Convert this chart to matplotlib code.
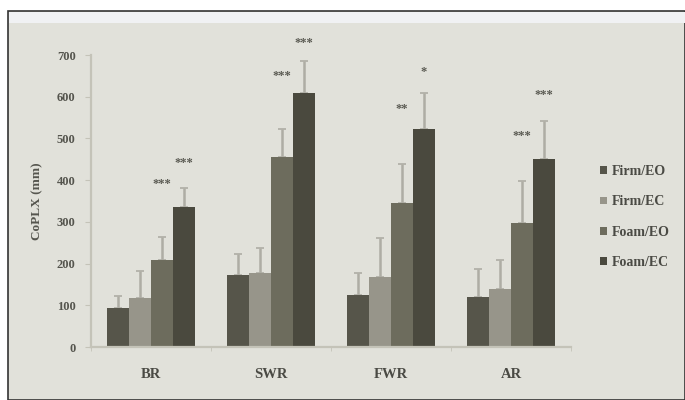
import numpy as np
import matplotlib
matplotlib.use("Agg")
from matplotlib import pyplot as plt
from matplotlib.patches import Rectangle

categories = ["BR", "SWR", "FWR", "AR"]
series = ["Firm/EO", "Firm/EC", "Foam/EO", "Foam/EC"]
means = [
    [94, 173, 125, 120],
    [118, 178, 167, 139],
    [209, 455, 345, 298],
    [335, 610, 522, 450],
]
sd = [
    [28, 50, 53, 67],
    [64, 60, 95, 70],
    [54, 67, 93, 99],
    [45, 75, 88, 92],
]
# significance marks: (series index, category index, label, height)
stars = [
    (2, 0, "***", 391), (3, 0, "***", 441),
    (2, 1, "***", 650), (3, 1, "***", 729),
    (2, 2, "**", 571), (3, 2, "*", 659),
    (2, 3, "***", 506), (3, 3, "***", 604),
]
colors = ["#56554a", "#97958a", "#6d6c5d", "#4a493e"]

plt.rcParams["font.family"] = ["Liberation Serif", "DejaVu Serif"]
plt.rcParams["font.weight"] = "bold"

fig = plt.figure(figsize=(6.85, 4.0), dpi=100, facecolor="white")
W, H = 685, 400
fig.patches.append(Rectangle((8 / W, 0), 1 - 8 / W, 1 - 11 / H, transform=fig.transFigure,
                             facecolor="#e1e1da", edgecolor="#333333", linewidth=1.2, zorder=-10))
fig.patches.append(Rectangle((9 / W, 1 - 23 / H), 1 - 9 / W, 11 / H, transform=fig.transFigure,
                             facecolor="#f0f1f3", edgecolor="none", zorder=-9))

ax = fig.add_axes([91 / W, 1 - 347 / H, 480 / W, 292 / H])
ax.patch.set_alpha(0)

x = np.arange(len(categories))
bw = 0.183
for i, name in enumerate(series):
    pos = x + (i - 1.5) * bw
    ax.bar(pos, means[i], bw, color=colors[i], label=name, zorder=2)
    ax.errorbar(pos, means[i], yerr=[np.zeros(len(categories)), sd[i]], fmt="none",
                ecolor="#aeada4", elinewidth=1.8, capsize=3, capthick=1.2, zorder=1)

for si, ci, lab, h in stars:
    ax.text(x[ci] + (si - 1.5) * bw, h, lab, ha="center", va="center",
            fontsize=9, color="#5a5a52", fontweight="bold", clip_on=False)

ax.set_xlim(-0.5, len(categories) - 0.5)
ax.set_ylim(0, 700)
ax.set_yticks(range(0, 701, 100))
ax.set_xticks(x)
ax.set_xticklabels(categories, fontsize=10.5, color="#4a4a44", fontweight="bold")
ax.set_xticks(np.arange(-0.5, len(categories)), minor=True)
ax.tick_params(axis="x", which="major", length=0, pad=15)
ax.tick_params(axis="x", which="minor", length=3, color="#c4c3b8", direction="out")
ax.tick_params(axis="y", length=4, color="#c4c3b8", labelsize=9, labelcolor="#55554e", pad=7)
for lab in ax.get_yticklabels():
    lab.set_fontweight("bold")
for s in ["top", "right"]:
    ax.spines[s].set_visible(False)
for s in ["left", "bottom"]:
    ax.spines[s].set_color("#c4c3b8")
    ax.spines[s].set_linewidth(1.6)
ax.set_ylabel("CoPLX (mm)", fontsize=9.5, color="#55554e", fontweight="bold", labelpad=10)

leg = ax.legend(loc="center left", bbox_to_anchor=(1.035, 0.445), frameon=False,
                fontsize=10, handlelength=0.45, handleheight=0.45, handletextpad=0.35,
                labelspacing=1.25)
for t in leg.get_texts():
    t.set_color("#4a4a44")
    t.set_fontweight("bold")

fig.savefig("out.png", dpi=100, facecolor=fig.get_facecolor())
